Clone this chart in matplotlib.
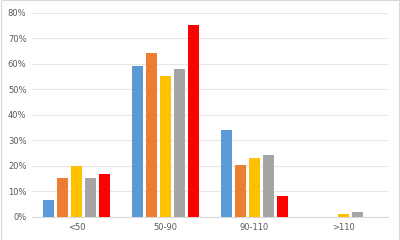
import numpy as np
import matplotlib.pyplot as plt
from matplotlib.ticker import PercentFormatter

categories = ["<50", "50-90", "90-110", ">110"]
series1 = [6.7, 59.2, 34.0, 0.0]
series2 = [15.3, 64.4, 20.3, 0.0]
series3 = [20.0, 55.4, 23.1, 1.2]
series4 = [15.4, 58.0, 24.2, 1.8]
series5 = [16.7, 75.2, 8.4, 0.0]
colors = ["#5B9BD5", "#ED7D31", "#FFC000", "#A5A5A5", "#FF0000"]

fig = plt.figure(figsize=(4, 2.4), dpi=100)
ax = fig.add_axes([0.08, 0.096, 0.89, 0.85])

x = np.arange(len(categories))
width = 0.125
step = 0.157
all_series = [series1, series2, series3, series4, series5]
for i, s in enumerate(all_series):
    ax.bar(x + (i - 2) * step, s, width, color=colors[i], zorder=3)

ax.set_xlim(-0.5, len(categories) - 0.5)
ax.set_ylim(0, 80)
ax.set_yticks(np.arange(0, 81, 10))
ax.yaxis.set_major_formatter(PercentFormatter(decimals=0))
ax.set_xticks(x)
ax.set_xticklabels(categories)
ax.grid(axis="y", color="#E6E6E6", linewidth=0.8, zorder=0)
for sp in ["top", "right", "left"]:
    ax.spines[sp].set_visible(False)
ax.spines["bottom"].set_color("#D9D9D9")
ax.tick_params(axis="both", length=0, labelsize=6, labelcolor="#595959", pad=4)

fig.patches.append(plt.Rectangle((0.002, 0.002), 0.996, 0.996, transform=fig.transFigure,
                                 fill=False, edgecolor="#D9D9D9", linewidth=0.8))

fig.savefig("out.png", dpi=100)
